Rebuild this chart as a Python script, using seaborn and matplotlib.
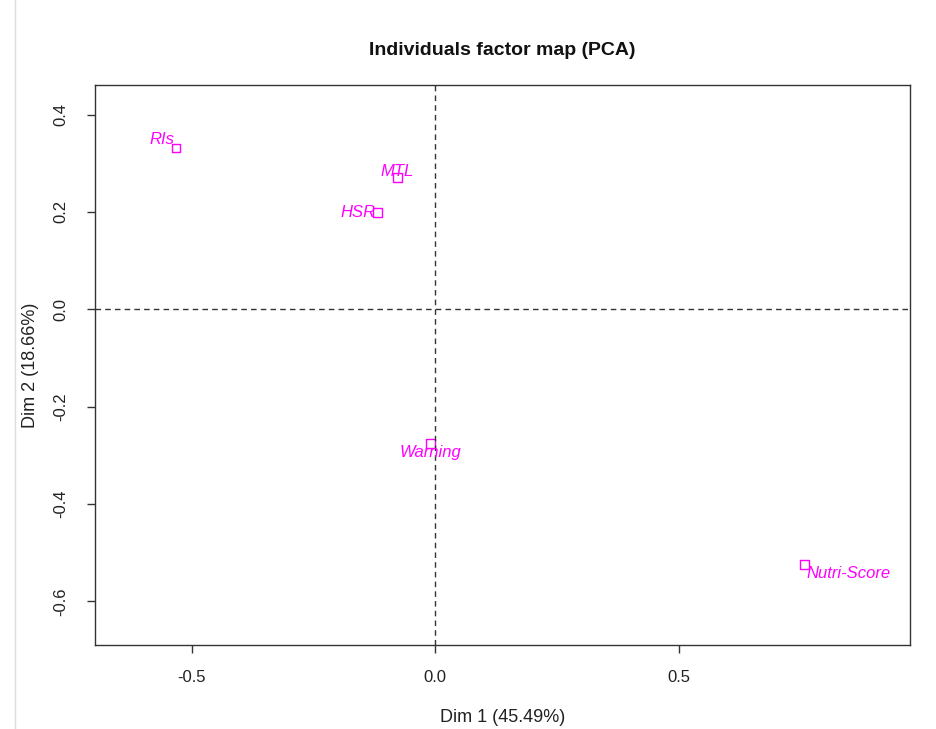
import pandas as pd
import numpy as np
import matplotlib.pyplot as plt
import seaborn as sns

# values
labels = ["RIs", "MTL", "HSR", "Warning", "Nutri-Score"]
dim1 = [-0.533, -0.078, -0.119, -0.010, 0.759]
dim2 = [0.331, 0.271, 0.199, -0.275, -0.524]

df = pd.DataFrame({"label": labels, "Dim1": dim1, "Dim2": dim2})

sns.set_style("white")
plt.rcParams["font.family"] = ["Liberation Sans", "DejaVu Sans"]

fig = plt.figure(figsize=(9.37, 7.29), dpi=100)
ax = fig.add_axes([0.101, 0.115, 0.870, 0.768])

sns.scatterplot(x="Dim1", y="Dim2", data=df, marker="s", s=40,
                facecolor="none", edgecolor="#FF00FF", linewidth=1.0, ax=ax)

# label offsets (points) and alignment, like R's autoLab placement
offsets = {"RIs": (-1, 1, "right", "bottom"),
           "MTL": (0, -1, "center", "bottom"),
           "HSR": (-1, 0, "right", "center"),
           "Warning": (0, -1, "center", "top"),
           "Nutri-Score": (1, -1, "left", "top")}
for lab, x, y in zip(df["label"], df["Dim1"], df["Dim2"]):
    dx, dy, ha, va = offsets[lab]
    ax.annotate(lab, (x, y), xytext=(dx, dy), textcoords="offset points",
                ha=ha, va=va, color="#FF00FF", style="italic", fontsize=12)

ax.axhline(0, color="#333333", linestyle=(0, (4, 3)), linewidth=1)
ax.axvline(0, color="#333333", linestyle=(0, (4, 3)), linewidth=1)

ax.set_xlim(-0.70, 0.975)
ax.set_ylim(-0.69, 0.46)
ax.set_xticks([-0.5, 0.0, 0.5])
ax.set_yticks([-0.6, -0.4, -0.2, 0.0, 0.2, 0.4])
ax.set_xticklabels(["-0.5", "0.0", "0.5"])
ax.set_yticklabels(["-0.6", "-0.4", "-0.2", "0.0", "0.2", "0.4"], rotation=90, va="center")
ax.tick_params(axis="x", pad=12)
ax.tick_params(axis="y", pad=13)
ax.tick_params(axis="both", which="both", direction="out", length=6, width=1,
               colors="#333333", labelsize=12, labelcolor="#222222",
               bottom=True, left=True)
for sp in ax.spines.values():
    sp.set_color("#333333")
    sp.set_linewidth(1)

ax.set_xlabel("Dim 1 (45.49%)", fontsize=13, labelpad=17, color="#222222")
ax.set_ylabel("Dim 2 (18.66%)", fontsize=13, labelpad=10, color="#222222")
ax.set_title("Individuals factor map (PCA)", fontsize=14, fontweight="bold",
             color="#111111", pad=22)

# thin grey frame line of the screenshot
fig.add_artist(plt.Line2D([0.016, 0.016], [0, 1], color="#dddddd", linewidth=1))

fig.savefig("out.png", dpi=100)
